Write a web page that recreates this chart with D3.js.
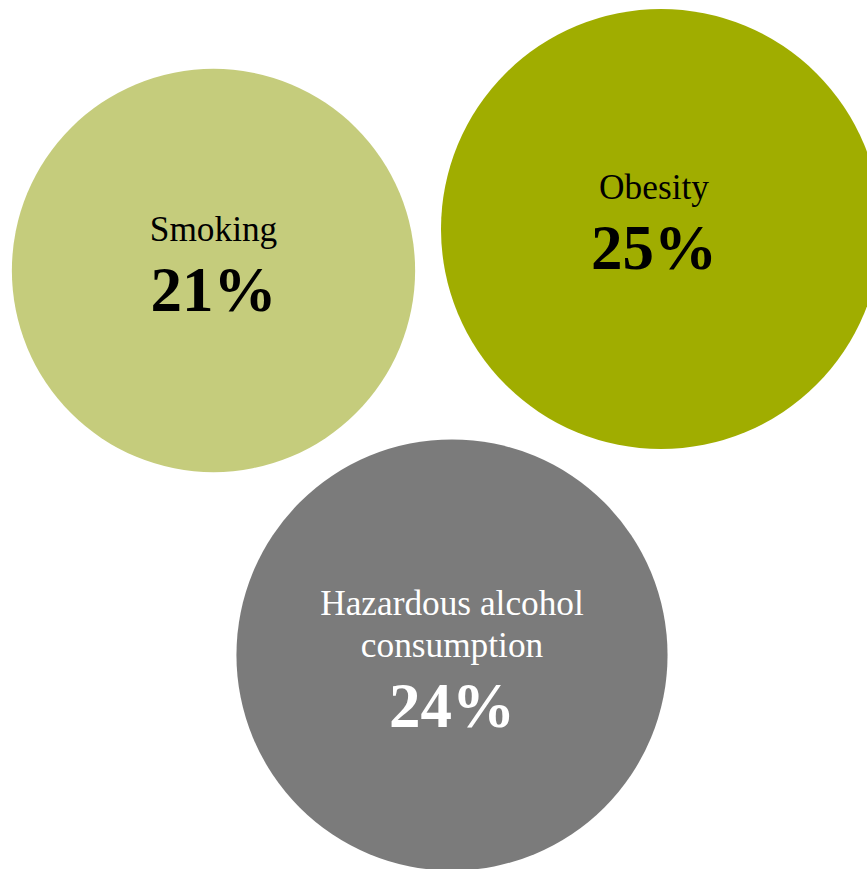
<!DOCTYPE html>
<html>
<head>
<meta charset="utf-8">
<script src="https://cdn.jsdelivr.net/npm/d3@7"></script>
<style>
html,body{margin:0;padding:0;background:#fff;overflow:hidden;}
svg{display:block;}
text{font-family:"Liberation Serif","Times New Roman",Times,serif;}
</style>
</head>
<body>
<svg id="chart" width="867" height="869"></svg>
<script>
// Data
const categories = ["Smoking", "Obesity", "Hazardous alcohol consumption"];
const values = [21, 25, 24];
const labelLines = [["Smoking"], ["Obesity"], ["Hazardous alcohol", "consumption"]];

// Styling / layout (not data)
const colors = ["#C5CC7C", "#A0AD00", "#7B7B7B"];
const textColors = ["#000", "#000", "#fff"];
const centers = [[213.5, 270.5], [661, 229], [452, 655]];

const W = 867, H = 869;
const svg = d3.select("#chart");
const r = d3.scaleSqrt().domain([0, 25]).range([0, 220]);

const nodes = categories.map((c, i) => ({
  name: c, value: values[i], lines: labelLines[i],
  cx: centers[i][0], cy: centers[i][1], color: colors[i], tc: textColors[i]
}));

svg.selectAll("circle").data(nodes).join("circle")
  .attr("cx", d => d.cx).attr("cy", d => d.cy)
  .attr("r", d => r(d.value)).attr("fill", d => d.color);

const labelSize = 35.3, valueSize = 63, lineH = 42;
const g = svg.selectAll("g.lab").data(nodes).join("g").attr("class", "lab");
g.each(function(d) {
  const rr = r(d.value);
  const left = Math.max(0, d.cx - rr), right = Math.min(W, d.cx + rr);
  const tx = (left + right) / 2;
  const n = d.lines.length;
  const firstBase = d.cy - 30 - (n - 1) * 10;
  const sel = d3.select(this);
  d.lines.forEach((ln, k) => {
    sel.append("text").attr("x", tx).attr("y", firstBase + k * lineH)
      .attr("text-anchor", "middle")
      .attr("font-size", labelSize).attr("fill", d.tc).text(ln);
  });
  sel.append("text").attr("x", tx).attr("y", firstBase + (n - 1) * lineH + 70)
    .attr("text-anchor", "middle")
    .attr("font-weight", "bold")
    .attr("font-size", valueSize).attr("fill", d.tc).text(d.value + "%");
});
</script>
</body>
</html>
